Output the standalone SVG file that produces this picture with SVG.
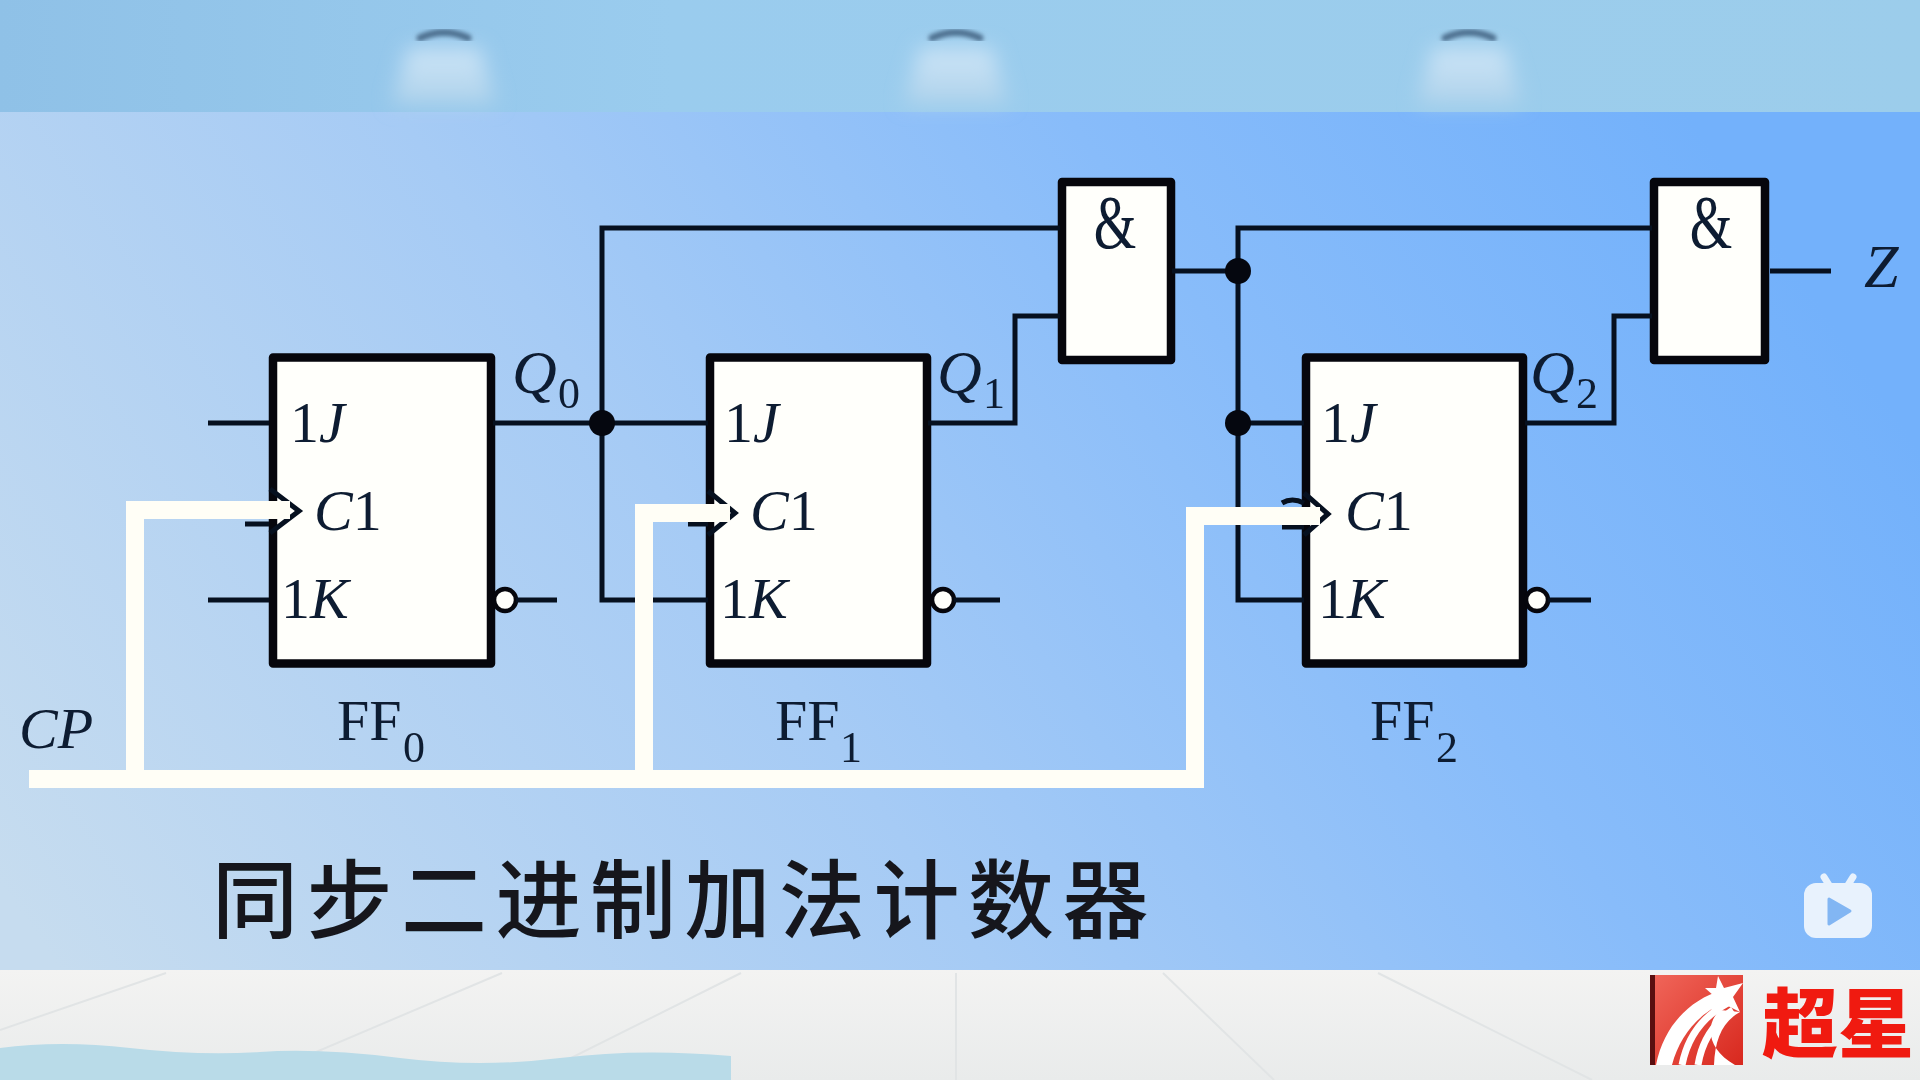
<svg xmlns="http://www.w3.org/2000/svg" width="1920" height="1080" viewBox="0 0 1920 1080">
<style>
.box{fill:#fffffb;stroke:#06060c;stroke-width:8.5;stroke-linejoin:round}
.w{fill:none;stroke:#06101f;stroke-width:5;stroke-linejoin:miter}
.cp{fill:none;stroke:#fffef6;stroke-width:18;stroke-linejoin:miter}
.dot{fill:#05070f}
.bub{fill:#fffffb;stroke:#06060c;stroke-width:4.5}
.t{font-family:"Liberation Serif","Times New Roman",serif;fill:#0f1c30;font-size:58px;filter:url(#s1)}
.i{font-style:italic}
.q{font-size:62px}
.sub{font-size:44px;font-style:normal}
.fl{stroke:#e1e4e5;stroke-width:2;fill:none}
.lamp{fill:none;stroke:#4d6f8f;stroke-width:7;stroke-linecap:round;filter:url(#s2)}
.arc{fill:none;stroke:#fff;stroke-width:7}
</style>
<defs>
<linearGradient id="top" x1="0" y1="0" x2="1" y2="0"><stop offset="0" stop-color="#8fc1e7"/><stop offset=".35" stop-color="#9accee"/><stop offset="1" stop-color="#9ccdeb"/></linearGradient>
<linearGradient id="main" gradientUnits="userSpaceOnUse" x1="150" y1="1100" x2="1650" y2="60"><stop offset="0" stop-color="#c6dcef"/><stop offset=".42" stop-color="#a6cbf5"/><stop offset=".72" stop-color="#88bcfa"/><stop offset="1" stop-color="#73b1fb"/></linearGradient>
<linearGradient id="floor" x1="0" y1="0" x2="0" y2="1"><stop offset="0" stop-color="#f3f3f2"/><stop offset="1" stop-color="#e9ebeb"/></linearGradient>
<linearGradient id="cone" x1="0" y1="0" x2="0" y2="1"><stop offset="0" stop-color="#cde5f7"/><stop offset="1" stop-color="#aed2eb"/></linearGradient>
<linearGradient id="red" x1="0" y1="0" x2="1" y2="1"><stop offset="0" stop-color="#f0665a"/><stop offset="1" stop-color="#d8281e"/></linearGradient>
<filter id="soft" x="-40%" y="-40%" width="180%" height="180%"><feGaussianBlur stdDeviation="10"/></filter>
<filter id="s1" x="-10%" y="-10%" width="120%" height="120%"><feGaussianBlur stdDeviation="0.55"/></filter>
<filter id="s2" x="-20%" y="-50%" width="140%" height="200%"><feGaussianBlur stdDeviation="2"/></filter>
</defs>

<g id="background">
<rect width="1920" height="112" fill="url(#top)"/>
<rect y="112" width="1920" height="858" fill="url(#main)"/>
<rect y="970" width="1920" height="110" fill="url(#floor)"/>
<path class="fl" d="M0 1030L166 973M250 1080L502 973M527 1080L741 973M956 973V1080M1163 973L1274 1080M1378 973L1592 1080"/>
<path d="M0 1048Q60 1040 130 1048T260 1052T400 1058T560 1058T731 1056V1080H0Z" fill="#b9dbe8"/>
<g id="lamps">
<path d="M392 104L408 48H480L496 104Z" fill="url(#cone)" filter="url(#soft)"/>
<path d="M904 104L920 48H992L1008 104Z" fill="url(#cone)" filter="url(#soft)"/>
<path d="M1417 104L1433 48H1505L1521 104Z" fill="url(#cone)" filter="url(#soft)"/>
<path class="lamp" d="M420 38Q444 27 468 38M932 38Q956 27 980 38M1445 38Q1469 27 1493 38"/>
</g>
</g>

<g id="FF0">
<rect class="box" x="273" y="357.5" width="218" height="306"/>
<circle class="bub" cx="505" cy="600" r="11"/>
<text class="t" x="290" y="442">1<tspan class="i">J</tspan></text>
<text class="t" x="314" y="530"><tspan class="i">C</tspan>1</text>
<text class="t" x="281" y="618">1<tspan class="i">K</tspan></text>
<text class="t" x="337" y="740">FF<tspan class="sub" x="403" y="762">0</tspan></text>
<text class="t i q" x="512" y="393">Q<tspan class="sub" x="558" y="408">0</tspan></text>
</g>
<g id="FF1">
<rect class="box" x="710" y="357.5" width="217" height="306"/>
<circle class="bub" cx="943" cy="600" r="11"/>
<text class="t" x="724" y="442">1<tspan class="i">J</tspan></text>
<text class="t" x="750" y="530"><tspan class="i">C</tspan>1</text>
<text class="t" x="720" y="618">1<tspan class="i">K</tspan></text>
<text class="t" x="775" y="740">FF<tspan class="sub" x="840" y="762">1</tspan></text>
<text class="t i q" x="937" y="393">Q<tspan class="sub" x="983" y="408">1</tspan></text>
</g>
<g id="FF2">
<rect class="box" x="1306" y="357.5" width="217" height="306"/>
<circle class="bub" cx="1537" cy="600" r="11"/>
<text class="t" x="1321" y="442">1<tspan class="i">J</tspan></text>
<text class="t" x="1345" y="530"><tspan class="i">C</tspan>1</text>
<text class="t" x="1318" y="618">1<tspan class="i">K</tspan></text>
<text class="t" x="1370" y="740">FF<tspan class="sub" x="1436" y="762">2</tspan></text>
<text class="t i q" x="1530" y="393">Q<tspan class="sub" x="1576" y="408">2</tspan></text>
</g>
<g id="AND1">
<rect class="box" x="1062" y="182" width="109" height="178"/>
<text class="t" text-anchor="middle" transform="translate(1115 248) scale(.72 1)" style="font-size:76px">&amp;</text>
</g>
<g id="AND2">
<rect class="box" x="1654" y="182" width="111" height="178"/>
<text class="t" text-anchor="middle" transform="translate(1711 248) scale(.72 1)" style="font-size:76px">&amp;</text>
</g>

<g id="connectors">
<path class="w" d="M208 423H269M208 600H269M493 423H708M516 600H557M954 600H1000M1548 600H1591"/>
<path class="w" d="M1060 228H602V600H708"/>
<path class="w" d="M928 423H1015V316H1060"/>
<path class="w" d="M1172 271H1238M1652 228H1238V600H1304M1238 423H1304"/>
<path class="w" d="M1525 423H1614V316H1652"/>
<path class="w" d="M1770 271H1831"/>
<circle class="dot" cx="602" cy="423" r="13"/>
<circle class="dot" cx="1238" cy="271" r="13"/>
<circle class="dot" cx="1238" cy="423" r="13"/>
<path class="w" d="M245 524H269M270 489L299 511L270 533"/>
<path class="w" d="M688 524H708M708 491L735 513L708 535"/>
<path class="w" d="M1282 503Q1292 497 1304 503M1282 527H1304M1304 493L1328 514L1304 535"/>
<path class="cp" d="M135 770V510H290"/>
<path class="cp" d="M644 770V513H730"/>
<path class="cp" d="M1195 770V516H1320"/>
<path class="cp" d="M29 779H1204"/>
</g>

<g id="labels">
<text class="t i" x="19" y="748">CP</text>
<text class="t i" x="1864" y="287" style="font-size:62px">Z</text>
<text x="212" y="932" font-family="'Noto Sans CJK SC','Noto Sans CJK JP',sans-serif" font-weight="500" font-size="86" letter-spacing="8.5" fill="#14181f" filter="url(#s1)">同步二进制加法计数器</text>
</g>

<g id="playIcon">
<path d="M1829 885L1824 877M1848 885L1853 877" stroke="#e8f2fd" stroke-width="7" stroke-linecap="round"/>
<rect x="1804" y="883" width="68" height="55" rx="12" fill="#e8f2fd"/>
<path d="M1829 899L1850 911L1829 924Z" fill="#82b6f3" stroke="#82b6f3" stroke-width="3" stroke-linejoin="round"/>
</g>

<g id="logo">
<rect x="1652" y="975" width="91" height="90" fill="url(#red)"/>
<rect x="1650" y="975" width="5" height="90" fill="#5a0f10"/>
<path d="M1656 1065C1664 1025 1690 1000 1722 990L1732 1000C1700 1010 1680 1035 1672 1065Z" fill="#fff"/>
<path class="arc" d="M1682 1065C1688 1035 1705 1015 1728 1003"/>
<path class="arc" d="M1698 1065C1702 1040 1715 1022 1733 1010"/>
<path d="M1714 1065C1715 1040 1722 1022 1740 1012L1720 1010C1704 1025 1708 1050 1735 1065Z" fill="#fff"/>
<path d="M1718 976L1724 988L1743 983L1733 997L1740 1012L1724 1004L1711 1012L1714 996L1705 988L1716 988Z" fill="#fff"/>
<text x="1762" y="1052" font-family="'Noto Sans CJK SC',sans-serif" font-weight="900" font-size="76" fill="#f01a10">超星</text>
</g>
</svg>
